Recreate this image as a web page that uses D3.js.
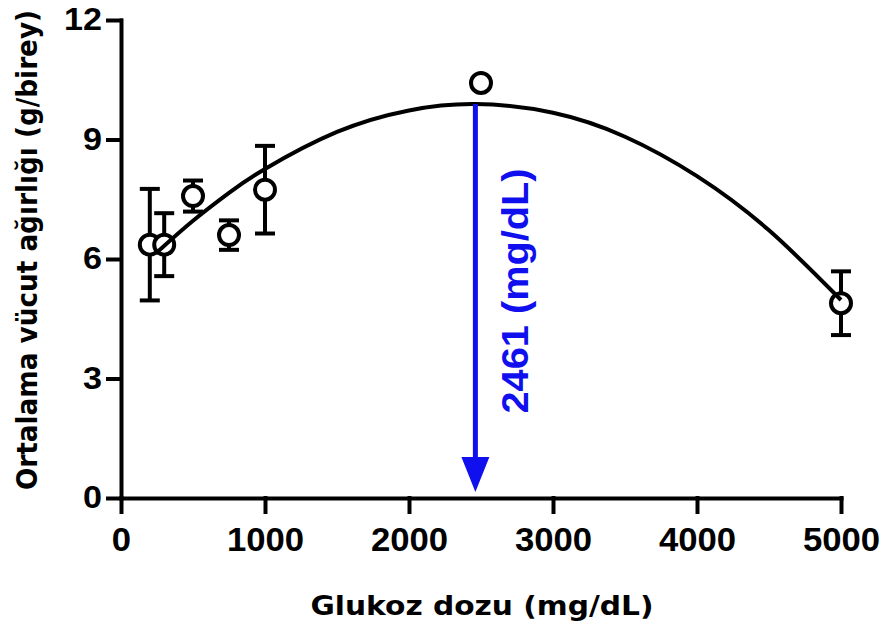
<!DOCTYPE html>
<html>
<head>
<meta charset="utf-8">
<script src="https://cdn.jsdelivr.net/npm/d3@7/dist/d3.min.js"></script>
<style>
    html, body { margin: 0; padding: 0; background: #fff; }
    svg { display: block; }
    .tick text { font-family: "Liberation Sans", Arial, sans-serif; font-weight: bold; fill: #000; }
    .axis-title { font-family: "DejaVu Sans", Verdana, sans-serif; font-weight: bold; fill: #000; }
</style>
</head>
<body>
<div id="chart"></div>
<script>
// measured doses, mean body weight and error (g/birey)
var doses = [200, 300, 500, 750, 1000, 2500, 5000];
var means = [6.36, 6.36, 7.58, 6.60, 7.74, 10.42, 4.89];
var errors = [1.40, 0.79, 0.39, 0.37, 1.10, 0.10, 0.80];

// fitted curve
var fitDoses = [260, 500, 750, 1000, 1500, 2000, 2461, 3000, 3500, 4000, 4500, 5000];
var fitWeights = [6.20, 6.96, 7.66, 8.26, 9.19, 9.73, 9.89, 9.67, 9.07, 8.08, 6.72, 4.97];

var optimumDose = 2461;
var optimumWeight = 9.89;

var xTicks = [0, 1000, 2000, 3000, 4000, 5000];
var yTicks = [0, 3, 6, 9, 12];

var width = 883;
var height = 628;
var blue = '#1010ee';

var svg = d3.select('#chart')
    .append('svg')
    .attr('width', width)
    .attr('height', height);

var x = d3.scaleLinear()
    .domain([0, 5000])
    .range([121, 841]);

var y = d3.scaleLinear()
    .domain([0, 12])
    .range([498, 20]);

var xAxis = d3.axisBottom(x)
    .tickValues(xTicks)
    .tickSize(14)
    .tickSizeOuter(0)
    .tickPadding(15)
    .tickFormat(d3.format('d'));

var yAxis = d3.axisLeft(y)
    .tickValues(yTicks)
    .tickSize(13)
    .tickSizeOuter(0)
    .tickPadding(6)
    .tickFormat(d3.format('d'));

var xAxisContainer = svg.append('g')
    .attr('transform', 'translate(0 ' + y(0) + ')')
    .call(xAxis);
xAxisContainer.selectAll('text')
    .style('font-size', '34px')
    .attr('textLength', function (d) { return String(d).length * 19.3; })
    .attr('lengthAdjust', 'spacingAndGlyphs');

var yAxisContainer = svg.append('g')
    .attr('transform', 'translate(' + x(0) + ' 0)')
    .call(yAxis);
yAxisContainer.selectAll('text')
    .style('font-size', '31px')
    .attr('textLength', function (d) { return String(d).length * 19; })
    .attr('lengthAdjust', 'spacingAndGlyphs');

svg.selectAll('.domain, .tick line')
    .attr('stroke', '#000')
    .attr('stroke-width', 4)
    .attr('stroke-linecap', 'square');

var points = doses.map(function (d, i) {
    return {dose: d, mean: means[i], err: errors[i]};
});

// error bars
var bars = svg.append('g')
    .attr('stroke', '#000')
    .attr('stroke-width', 4)
    .selectAll('g')
    .data(points)
    .enter().append('g');

bars.append('line')
    .attr('x1', function (d) { return x(d.dose); })
    .attr('x2', function (d) { return x(d.dose); })
    .attr('y1', function (d) { return y(d.mean - d.err); })
    .attr('y2', function (d) { return y(d.mean + d.err); });

[-1, 1].forEach(function (sign) {
    bars.append('line')
        .attr('x1', function (d) { return x(d.dose) - 10; })
        .attr('x2', function (d) { return x(d.dose) + 10; })
        .attr('y1', function (d) { return y(d.mean + sign * d.err); })
        .attr('y2', function (d) { return y(d.mean + sign * d.err); });
});

svg.append('g')
    .selectAll('circle')
    .data(points)
    .enter().append('circle')
    .attr('cx', function (d) { return x(d.dose); })
    .attr('cy', function (d) { return y(d.mean); })
    .attr('r', 10)
    .attr('fill', '#fff')
    .attr('stroke', '#000')
    .attr('stroke-width', 4);

var fit = fitDoses.map(function (d, i) {
    return {dose: d, weight: fitWeights[i]};
});

var line = d3.line()
    .x(function (d) { return x(d.dose); })
    .y(function (d) { return y(d.weight); })
    .curve(d3.curveNatural);

svg.append('path')
    .datum(fit)
    .attr('d', line)
    .attr('fill', 'none')
    .attr('stroke', '#000')
    .attr('stroke-width', 4);

// optimum arrow
var ax = x(optimumDose);
var tipY = y(0) - 6;
svg.append('line')
    .attr('x1', ax)
    .attr('x2', ax)
    .attr('y1', y(optimumWeight))
    .attr('y2', tipY - 30)
    .attr('stroke', blue)
    .attr('stroke-width', 5);

svg.append('path')
    .attr('d', 'M' + (ax - 14) + ',' + (tipY - 35) + 'L' + (ax + 14) + ',' + (tipY - 35) + 'L' + ax + ',' + tipY + 'Z')
    .attr('fill', blue);

svg.append('text')
    .attr('transform', 'translate(' + (ax + 53) + ' 291) rotate(-90)')
    .attr('text-anchor', 'middle')
    .attr('fill', blue)
    .style('font-family', '"Liberation Sans", Arial, sans-serif')
    .style('font-weight', 'bold')
    .style('font-size', '37px')
    .attr('textLength', 245)
    .attr('lengthAdjust', 'spacingAndGlyphs')
    .text(optimumDose + ' (mg/dL)');

svg.append('text')
    .attr('class', 'axis-title')
    .attr('x', 482)
    .attr('y', 615)
    .attr('text-anchor', 'middle')
    .style('font-size', '27px')
    .attr('textLength', 343)
    .attr('lengthAdjust', 'spacingAndGlyphs')
    .text('Glukoz dozu (mg/dL)');

// glyphs are taller than the natural width allows, so stretch across the line
svg.append('text')
    .attr('class', 'axis-title')
    .attr('transform', 'translate(37 250) rotate(-90) scale(1 1.1)')
    .attr('text-anchor', 'middle')
    .style('font-size', '26.3px')
    .text('Ortalama vücut ağırlığı (g/birey)');
</script>
</body>
</html>
